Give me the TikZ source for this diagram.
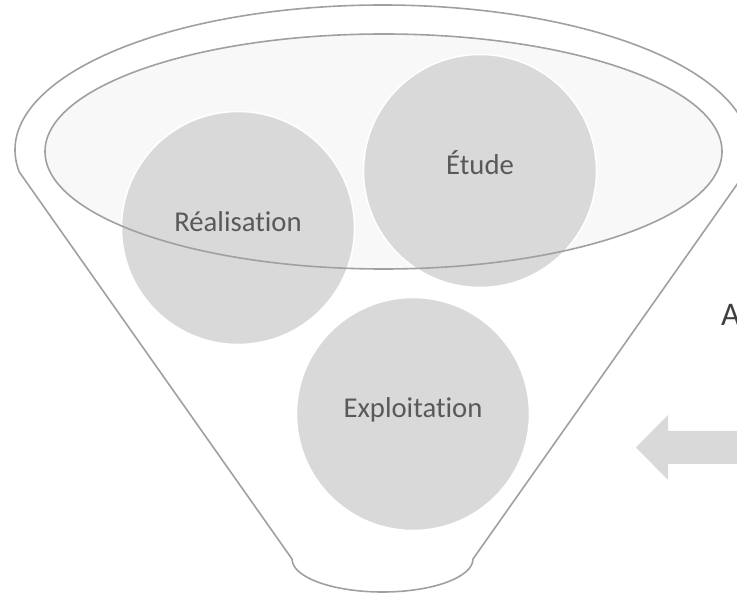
\documentclass[tikz,border=0pt]{standalone}
\usepackage{fontspec}
\setmainfont{Carlito}[Ligatures=NoCommon]
\definecolor{edgegray}{HTML}{A0A0A0}
\definecolor{ballgray}{HTML}{D9D9D9}
\definecolor{ellfill}{HTML}{F8F8F8}
\definecolor{textgray}{HTML}{595959}
\definecolor{darktext}{HTML}{404040}
\tikzset{
  funnelline/.style={draw=edgegray, line width=1.6pt, line join=round},
  ball/.style={circle, fill=ballgray, draw=white, line width=1.5pt, minimum size=233pt, inner sep=0pt,
    text=textgray, font=\fontsize{28.7}{30}\selectfont, text height=0.644em, text depth=0pt},
  bigarrow/.style={fill=ballgray, draw=none},
}
\begin{document}
\begin{tikzpicture}[x=1pt,y=1pt]
\useasboundingbox (0,0) rectangle (737,-593);
\clip (0,0) rectangle (737,-593);
% funnel body
\draw[funnelline, fill=white] (19.3,-172) arc[start angle=188.73, end angle=-8.73, x radius=367.5, y radius=145]
  -- (473,-559) arc[start angle=0, end angle=-180, x radius=90.5, y radius=33] -- cycle;
% inner ellipse fill
\fill[ellfill] (383.5,-151.5) ellipse[x radius=338.5, y radius=117.5];
% balls
\node[ball] (etude) at (480,-171) {Étude};
\node[ball] (real) at (238,-228) {Réalisation};
\node[ball] (expl) at (413,-414) {Exploitation};
% inner ellipse outline
\draw[funnelline] (383.5,-151.5) ellipse[x radius=338.5, y radius=117.5];
% arrow
\fill[bigarrow] (636,-447.5) -- (668,-415) -- (668,-431) -- (745,-431) -- (745,-464) -- (668,-464) -- (668,-480) -- cycle;
% cut-off label (cut by the picture edge, as in the reference)
\node[anchor=base west, inner sep=0pt, text=darktext, font=\fontsize{33}{36}\selectfont] (alabel) at (721,-326) {A};
\end{tikzpicture}
\end{document}
